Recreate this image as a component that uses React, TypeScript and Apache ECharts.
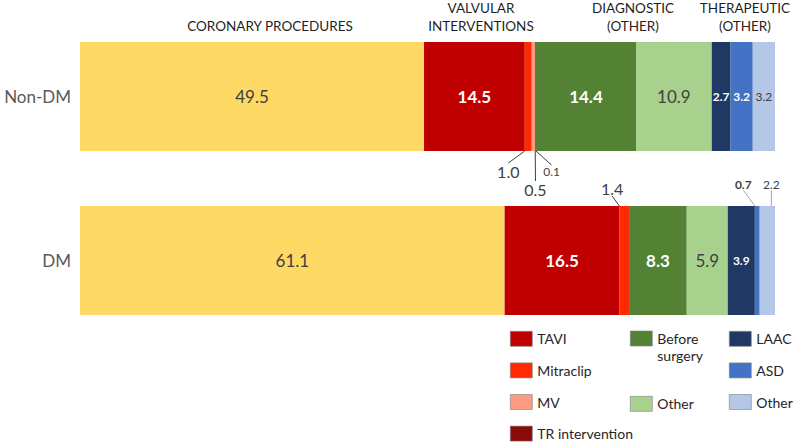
import React, { useEffect, useRef } from 'react';
import * as echarts from 'echarts';

const categories = ['Non-DM', 'DM'];
const coronary = [49.5, 61.1];
const tavi = [14.5, 16.5];
const mitraclip = [1.0, 1.4];
const mv = [0.5, 0];
const trIntervention = [0.1, 0];
const beforeSurgery = [14.4, 8.3];
const diagnosticOther = [10.9, 5.9];
const laac = [2.7, 3.9];
const asd = [3.2, 0.7];
const therapeuticOther = [3.2, 2.2];

const groupHeaders = [
  { text: 'CORONARY PROCEDURES', x: 270, y: 26 },
  { text: 'VALVULAR\nINTERVENTIONS', x: 481, y: 17 },
  { text: 'DIAGNOSTIC\n(OTHER)', x: 633, y: 17 },
  { text: 'THERAPEUTIC\n(OTHER)', x: 745, y: 17 },
];

const FONT = 'Lato, "Liberation Sans", sans-serif';
const DARK = '#404040';

type Seg = {
  name: string;
  values: number[];
  color: string;
  labelColor: string;
  bold: boolean;
  size: number;
};

const segments: Seg[] = [
  { name: 'Coronary procedures', values: coronary, color: '#FFD966', labelColor: DARK, bold: false, size: 17 },
  { name: 'TAVI', values: tavi, color: '#C00000', labelColor: '#FFFFFF', bold: true, size: 17 },
  { name: 'Mitraclip', values: mitraclip, color: '#FF2A00', labelColor: DARK, bold: false, size: 16 },
  { name: 'MV', values: mv, color: '#FF9A85', labelColor: DARK, bold: false, size: 16 },
  { name: 'TR intervention', values: trIntervention, color: '#8B0A0A', labelColor: DARK, bold: false, size: 12 },
  { name: 'Before surgery', values: beforeSurgery, color: '#548235', labelColor: '#FFFFFF', bold: true, size: 17 },
  { name: 'Other (diagnostic)', values: diagnosticOther, color: '#A9D18E', labelColor: DARK, bold: false, size: 17 },
  { name: 'LAAC', values: laac, color: '#203864', labelColor: '#FFFFFF', bold: true, size: 12 },
  { name: 'ASD', values: asd, color: '#4472C4', labelColor: '#FFFFFF', bold: true, size: 12 },
  { name: 'Other (therapeutic)', values: therapeuticOther, color: '#B4C7E7', labelColor: DARK, bold: false, size: 12 },
];

type Outside = { position: 'top' | 'bottom'; dx: number; dy: number; size: number; bold?: boolean; lineColor?: string };
const outsideLabels: Record<string, Record<number, Outside>> = {
  Mitraclip: {
    0: { position: 'bottom', dx: -20, dy: 7, size: 16 },
    1: { position: 'top', dx: -12, dy: -5, size: 16 },
  },
  MV: { 0: { position: 'bottom', dx: 2, dy: 25, size: 16 } },
  'TR intervention': { 0: { position: 'bottom', dx: 16, dy: 9, size: 12 } },
  ASD: { 1: { position: 'top', dx: -14, dy: -11, size: 12, bold: true, lineColor: '#A6A6A6' } },
  'Other (therapeutic)': { 1: { position: 'top', dx: 4, dy: -11, size: 12, lineColor: '#A6A6A6' } },
};

const legendText = (name: string) => {
  if (name.startsWith('Other')) return 'Other';
  if (name === 'Before surgery') return '\u00a0\nBefore\nsurgery';
  return name;
};

export default function App() {
  const ref = useRef<HTMLDivElement>(null);
  useEffect(() => {
    if (!ref.current) return;
    const chart = echarts.init(ref.current, undefined, { renderer: 'svg' });

    const series = segments.map((s) => {
      const outs = outsideLabels[s.name] || {};
      return {
        name: s.name,
        type: 'bar',
        stack: 'total',
        barWidth: 109,
        itemStyle: { color: s.color },
        label: {
          show: true,
          position: 'inside',
          formatter: (p: any) => Number(p.value).toFixed(1),
          color: s.labelColor,
          fontSize: s.size,
          fontWeight: s.bold ? 'bold' : 'normal',
          fontFamily: FONT,
        },
        labelLayout: (p: any) => {
          const o = outs[p.dataIndex];
          return o ? { dx: o.dx, dy: o.dy } : {};
        },
        data: s.values.map((v, i) => {
          const o = outs[i];
          if (v <= 0) return { value: v, label: { show: false }, labelLine: { show: false } };
          if (!o) return { value: v, labelLine: { show: false } };
          return {
            value: v,
            label: {
              show: true,
              position: o.position,
              distance: 5,
              color: DARK,
              fontSize: o.size,
              fontWeight: o.bold ? 'bold' : 'normal',
              fontFamily: FONT,
            },
            labelLine: { show: true, length2: 0, lineStyle: { color: o.lineColor || DARK, width: 1 } },
          };
        }),
      };
    });

    const legendBase = {
      orient: 'vertical',
      itemWidth: 22,
      itemHeight: 15,
      itemGap: 16,
      padding: 0,
      icon: 'rect',
      selectedMode: false,
      formatter: legendText,
      itemStyle: { borderColor: '#7F7F7F', borderWidth: 0.6 },
      textStyle: { fontSize: 14, color: '#262626', fontFamily: FONT, lineHeight: 15 },
    };

    chart.setOption({
      animation: false,
      backgroundColor: '#FFFFFF',
      grid: { left: 80, right: 22, top: 14.5, bottom: 103.5, containLabel: false },
      xAxis: { type: 'value', min: 0, max: 100, show: false },
      yAxis: {
        type: 'category',
        data: categories,
        inverse: true,
        axisLine: { show: false },
        axisTick: { show: false },
        axisLabel: { fontSize: 17, color: '#595959', fontFamily: FONT, margin: 9 },
      },
      legend: [
        { ...legendBase, left: 510, top: 331, data: ['TAVI', 'Mitraclip', 'MV', 'TR intervention'] },
        {
          ...legendBase,
          left: 630,
          top: 313,
          data: ['Before surgery'],
          textStyle: { ...legendBase.textStyle, lineHeight: 17 },
        },
        { ...legendBase, left: 630, top: 396, data: ['Other (diagnostic)'] },
        { ...legendBase, left: 729, top: 331, data: ['LAAC', 'ASD', 'Other (therapeutic)'] },
      ],
      graphic: groupHeaders.map((h) => ({
        type: 'text',
        x: h.x,
        y: h.y,
        style: {
          text: h.text,
          textAlign: 'center',
          textVerticalAlign: 'middle',
          fontSize: 13.5,
          lineHeight: 18,
          fill: '#1F1F1F',
          fontFamily: FONT,
        },
      })),
      series,
    } as any);

    return () => chart.dispose();
  }, []);

  return <div ref={ref} style={{ position: 'fixed', left: 0, top: 0, width: 797, height: 446 }} />;
}
